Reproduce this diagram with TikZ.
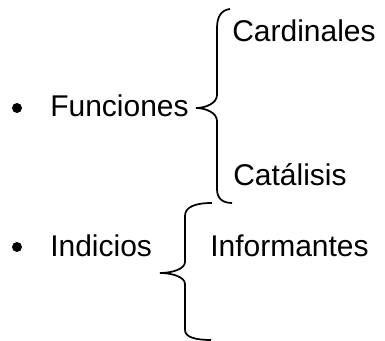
\documentclass[tikz,border=0pt]{standalone}
\usepackage{fontspec}
\setmainfont{Liberation Sans}
\usetikzlibrary{positioning}

\begin{document}
\begin{tikzpicture}[x=0.75pt,y=-0.75pt,
word/.style={anchor=base west,inner sep=0pt,font=\fontsize{22.5}{27}\selectfont},
dot/.style={circle,fill=black,inner sep=0pt,minimum size=7.5pt},
brace/.style={draw=black,line width=1.3pt}]
\useasboundingbox (0,0) rectangle (385,341);
% bullets and items
\node (bfun) [dot] at (17,108) {};
\node (fun) [word] at (50,117) {Funciones};
\node (bind) [dot] at (17,247) {};
\node (ind) [word] at (50,257) {Indicios};
\node (card) [word] at (232,42) {Cardinales};
\node (cata) [word] at (233,186) {Catálisis};
\node (info) [word] at (210,257) {Informantes};
% braces
\draw [brace] (230,9) .. controls (221,10) and (217,17) .. (217,28)
    -- (217,95) .. controls (217,103) and (206,108) .. (196,108)
    .. controls (206,108) and (217,113) .. (217,121)
    -- (217,189) .. controls (217,198) and (222,203) .. (232,203);
\draw [brace] (212,203) .. controls (195,203) and (185,207) .. (185,216)
    -- (185,262) .. controls (185,269) and (172,273) .. (160,273)
    .. controls (172,273) and (185,277) .. (185,284)
    -- (185,330) .. controls (185,337) and (195,340) .. (211,340);
\end{tikzpicture}
\end{document}
